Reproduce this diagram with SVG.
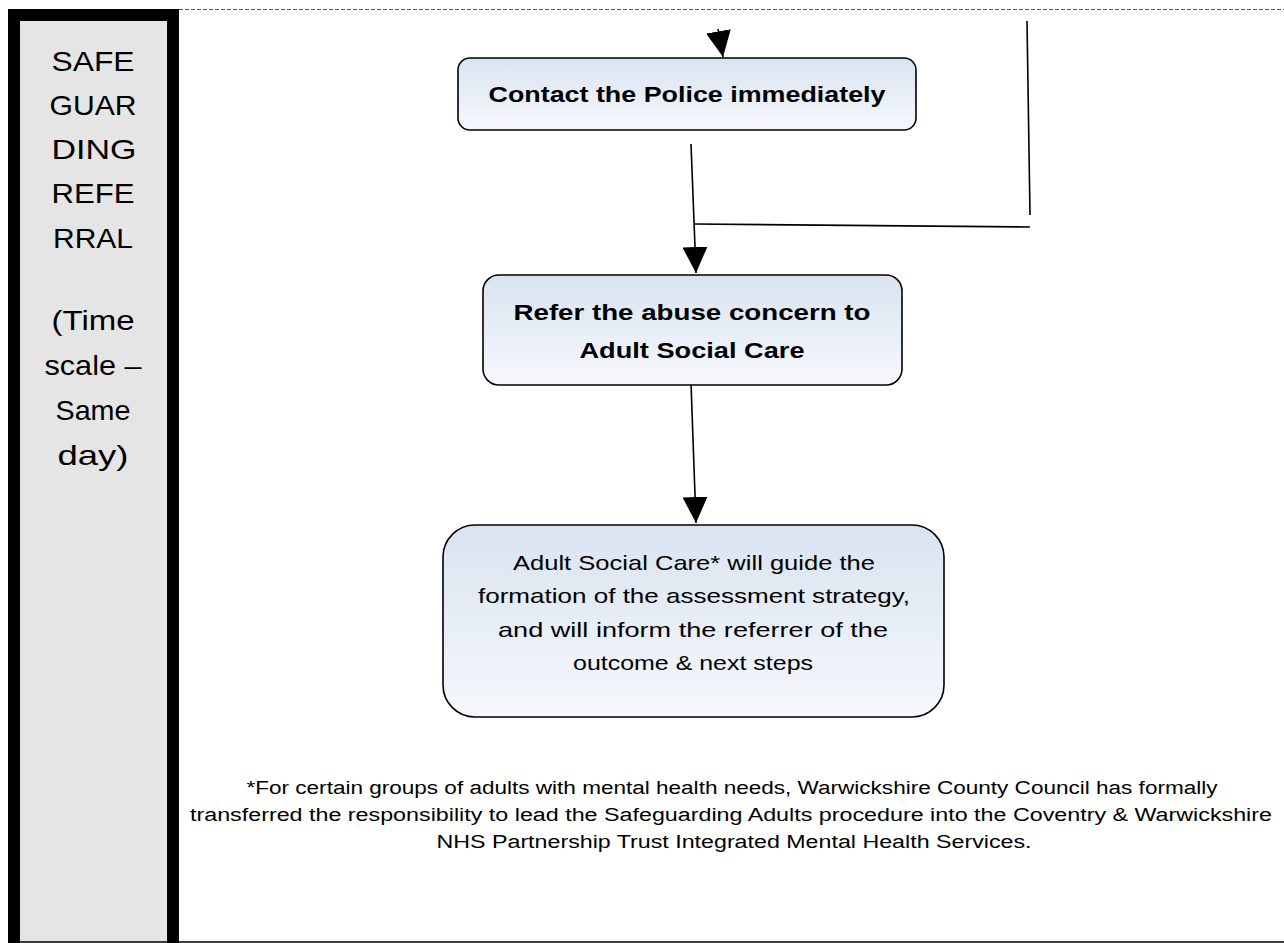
<svg xmlns="http://www.w3.org/2000/svg" width="1284" height="943" viewBox="0 0 1284 943">
<defs>
<linearGradient id="boxfill" x1="0" y1="0" x2="0" y2="1">
<stop offset="0" stop-color="#d9e3f0"/>
<stop offset="1" stop-color="#f6f8fc"/>
</linearGradient>
<marker id="arrow" markerUnits="userSpaceOnUse" markerWidth="26" markerHeight="25" refX="26" refY="12.5" orient="auto">
<path d="M0,0 L26,12.5 L0,25 Z" fill="#000"/>
</marker>
<style>
.box{fill:url(#boxfill);stroke:#000;stroke-width:1.6}
.conn{stroke:#000;stroke-width:1.6;fill:none}
.t{font-family:"Liberation Sans","DejaVu Sans",sans-serif;fill:#000;text-anchor:middle}
.b{font-weight:bold;font-size:22px}
.n{font-size:21px}
.side{font-size:28px}
.foot{font-size:18px}
</style>
</defs>
<rect id="bg" x="0" y="0" width="1284" height="943" fill="#fff"/>
<g id="sidebar">
<rect x="8" y="9" width="171" height="934" fill="#000"/>
<rect x="20" y="21" width="147" height="922" fill="#e5e5e5"/>
<text class="t side" x="93" y="71" textLength="83" lengthAdjust="spacingAndGlyphs">SAFE</text>
<text class="t side" x="93" y="115" textLength="87" lengthAdjust="spacingAndGlyphs">GUAR</text>
<text class="t side" x="94" y="159" textLength="85" lengthAdjust="spacingAndGlyphs">DING</text>
<text class="t side" x="93" y="203" textLength="83" lengthAdjust="spacingAndGlyphs">REFE</text>
<text class="t side" x="93" y="248" textLength="80" lengthAdjust="spacingAndGlyphs">RRAL</text>
<text class="t side" x="93" y="330" textLength="83" lengthAdjust="spacingAndGlyphs">(Time</text>
<text class="t side" x="93" y="375" textLength="97" lengthAdjust="spacingAndGlyphs">scale –</text>
<text class="t side" x="93" y="420" textLength="75" lengthAdjust="spacingAndGlyphs">Same</text>
<text class="t side" x="93" y="465" textLength="71" lengthAdjust="spacingAndGlyphs">day)</text>
</g>
<g id="frame">
<line x1="179" y1="9.5" x2="1284" y2="9.5" stroke="#555" stroke-width="1" stroke-dasharray="4,2"/>
<line x1="8" y1="942" x2="1284" y2="942" stroke="#000" stroke-width="1.6"/>
</g>
<g id="connectors">
<line class="conn" x1="718" y1="29" x2="723" y2="57" marker-end="url(#arrow)"/>
<line class="conn" x1="691" y1="144" x2="696" y2="273" marker-end="url(#arrow)"/>
<line class="conn" x1="1027" y1="21" x2="1030" y2="215"/>
<line class="conn" x1="695" y1="224" x2="1030" y2="227"/>
<line class="conn" x1="691" y1="383" x2="696" y2="523" marker-end="url(#arrow)"/>
</g>
<g id="node-police">
<rect class="box" x="458" y="58" width="458" height="72" rx="12"/>
<text class="t b" x="687" y="102" textLength="397" lengthAdjust="spacingAndGlyphs">Contact the Police immediately</text>
</g>
<g id="node-refer">
<rect class="box" x="483" y="275" width="419" height="110" rx="16"/>
<text class="t b" x="692" y="320" textLength="357" lengthAdjust="spacingAndGlyphs">Refer the abuse concern to</text>
<text class="t b" x="692" y="358" textLength="225" lengthAdjust="spacingAndGlyphs">Adult Social Care</text>
</g>
<g id="node-asc">
<rect class="box" x="443" y="525" width="501" height="192" rx="32"/>
<text class="t n" x="694" y="570" textLength="362" lengthAdjust="spacingAndGlyphs">Adult Social Care* will guide the</text>
<text class="t n" x="694" y="603" textLength="432" lengthAdjust="spacingAndGlyphs">formation of the assessment strategy,</text>
<text class="t n" x="693" y="637" textLength="390" lengthAdjust="spacingAndGlyphs">and will inform the referrer of the</text>
<text class="t n" x="693" y="670" textLength="240" lengthAdjust="spacingAndGlyphs">outcome &amp; next steps</text>
</g>
<g id="footnote">
<text class="t foot" x="732" y="794" textLength="971" lengthAdjust="spacingAndGlyphs">*For certain groups of adults with mental health needs, Warwickshire County Council has formally</text>
<text class="t foot" x="731" y="821" textLength="1082" lengthAdjust="spacingAndGlyphs">transferred the responsibility to lead the Safeguarding Adults procedure into the Coventry &amp; Warwickshire</text>
<text class="t foot" x="734" y="848" textLength="595" lengthAdjust="spacingAndGlyphs">NHS Partnership Trust Integrated Mental Health Services.</text>
</g>
</svg>
